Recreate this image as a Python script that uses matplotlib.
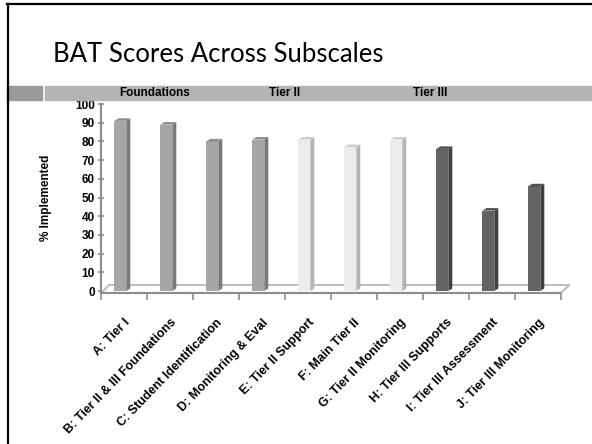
import matplotlib
matplotlib.use("Agg")
import matplotlib.pyplot as plt
from matplotlib.patches import Rectangle
from matplotlib.lines import Line2D

# BAT subscale scores (% implemented)
categories = ["A: Tier I", "B: Tier II & III Foundations", "C: Student Identification",
              "D: Monitoring & Eval", "E: Tier II Support", "F: Main Tier II",
              "G: Tier II Monitoring", "H: Tier III Supports", "I: Tier III Assessment",
              "J: Tier III Monitoring"]
values = [91, 89, 80, 81, 81, 77, 81, 76, 43, 56]
groups = ["Foundations", "Foundations", "Foundations", "Foundations",
          "Tier II", "Tier II", "Tier II", "Tier III", "Tier III", "Tier III"]
group_names = ["Foundations", "Tier II", "Tier III"]
group_label_x = [155, 285, 430]
yticks = list(range(0, 101, 10))

front_col = {"Foundations": "#a6a6a6", "Tier II": "#ececec", "Tier III": "#636363"}
side_col = {"Foundations": "#7a7a7a", "Tier II": "#b5b5b5", "Tier III": "#404040"}
top_col = {"Foundations": "#8c8c8c", "Tier II": "#cfcfcf", "Tier III": "#505050"}

tick_font = ["Liberation Sans Narrow", "Liberation Sans", "DejaVu Sans"]

W, H = 592, 444
fig = plt.figure(figsize=(W / 100, H / 100), dpi=100)
fig.patch.set_facecolor("white")

def fx(px):
    return px / W

def fy(py):
    return 1 - py / H

# slide frame
fig.add_artist(Line2D([fx(7), 1], [fy(4.5), fy(4.5)], color="black", lw=1.6))
fig.add_artist(Line2D([fx(7.5), fx(7.5)], [fy(4), 0], color="black", lw=1.6))

# title
fig.text(fx(53), fy(62), "BAT Scores Across Subscales", fontsize=18.5,
         family=["Lato", "DejaVu Sans"], va="baseline", ha="left", color="black")

# gray band with group names
fig.add_artist(Rectangle((fx(7), fy(100)), fx(35), fy(86) - fy(100),
                         color="#999999", transform=fig.transFigure))
fig.add_artist(Rectangle((fx(45), fy(100)), 1 - fx(45), fy(86) - fy(100),
                         color="#b3b3b3", transform=fig.transFigure))
for name, px in zip(group_names, group_label_x):
    fig.text(fx(px), fy(93), name, fontsize=8.5, fontweight="bold", family=tick_font,
             ha="center", va="center", color="black")

# chart area
left, right, top, bottom = 101, 561, 104, 291
ax = fig.add_axes([fx(left), fy(bottom), fx(right - left), fy(top) - fy(bottom)])
ax.set_xlim(-0.5, 9.5)
ax.set_ylim(0, 100)

px_x = 10 / (right - left)          # data units per pixel
px_y = 100 / (bottom - top)
dx, dy = 4 * px_x, 2.5 * px_y       # 3D depth offset
bw = 0.26
xs = [i - 0.08 for i in range(len(values))]

for x, v, g in zip(xs, values, groups):
    ax.bar(x, v, width=bw, color=front_col[g], edgecolor="none", zorder=3)
    x0, x1 = x - bw / 2, x + bw / 2
    ax.fill([x1, x1 + dx, x1 + dx, x1], [0, dy, v + dy, v], color=side_col[g],
            lw=0, zorder=3)
    ax.fill([x0, x0 + dx, x1 + dx, x1], [v, v + dy, v + dy, v], color=top_col[g],
            lw=0, zorder=3)

# floor
fl = dict(color="#bfbfbf", lw=1.5, clip_on=False, zorder=2)
ax.plot([-0.5, 9.5], [-1, -1], **fl)
ax.plot([-0.5 + 2 * dx, 9.5 + 2 * dx], [3, 3], **fl)
ax.plot([-0.5, -0.5 + 2 * dx], [-1, 3], **fl)
ax.plot([9.5, 9.5 + 2 * dx], [-1, 3], **fl)

for s in ["top", "right"]:
    ax.spines[s].set_visible(False)
ax.spines["left"].set_color("#8c8c8c")
ax.spines["left"].set_linewidth(1.5)
ax.spines["bottom"].set_color("#8c8c8c")
ax.spines["bottom"].set_linewidth(1.5)
ax.spines["bottom"].set_position(("data", -1))

ax.set_yticks(yticks)
ax.set_yticklabels([str(t) for t in yticks], fontsize=8.5, fontweight="bold",
                   family=tick_font)
ax.tick_params(axis="y", direction="inout", length=5, color="#8c8c8c", width=1.2,
               pad=2)

ax.set_xticks([i + 0.5 for i in range(-1, 10)], minor=True)
ax.set_xticks(range(len(categories)))
ax.set_xticklabels(categories, rotation=46, ha="right", va="top",
                   rotation_mode="anchor", fontsize=9, fontweight="bold",
                   family=tick_font)
ax.tick_params(axis="x", which="major", length=0, pad=17)
ax.tick_params(axis="x", which="minor", length=5, color="#8c8c8c", width=1.2)

fig.text(fx(46), fy(198), "% Implemented", rotation=90, fontsize=8.5,
         fontweight="bold", family=tick_font, ha="center", va="center")

fig.savefig("out.png", dpi=100)
